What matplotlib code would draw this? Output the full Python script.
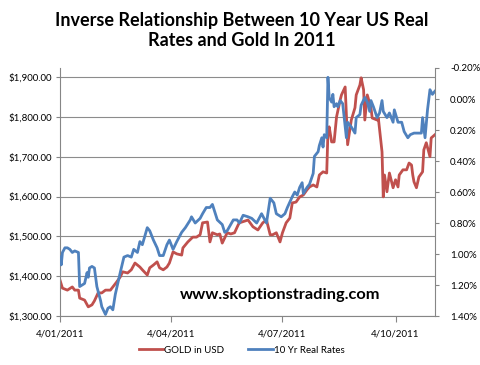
import numpy as np
import matplotlib
matplotlib.use('Agg')
import matplotlib.pyplot as plt
import matplotlib.dates as mdates

plt.rcParams['font.family'] = ['Lato', 'DejaVu Sans']
plt.rcParams['axes.unicode_minus'] = False

# days counted from 4 Jan 2011
start = np.datetime64('2011-01-04')

gold_days = [0, 2, 6, 10, 12, 15, 16, 20, 23, 26, 28, 31, 34, 37, 41, 43, 46, 49, 51, 55,
             58, 61, 65, 67, 71, 73, 76, 79, 81, 84, 87, 89, 92, 95, 99, 100, 104, 108, 111, 114,
             116, 120, 122, 124, 128, 130, 132, 136, 139, 142, 145, 146, 153, 157, 161, 165, 168, 171, 173, 176,
             179, 181, 184, 187, 189, 192, 195, 198, 201, 203, 206, 209, 211, 214, 217, 218, 219, 221, 223, 225,
             228, 229, 232, 233, 234, 237, 240, 241, 244, 245, 247, 248, 250, 253, 254, 258, 259, 262, 263, 264,
             266, 268, 271, 273, 275, 276, 279, 282, 284, 286, 287, 288, 290, 292, 295, 296, 298, 301, 302, 305]
gold_usd = [1390, 1370, 1365, 1373, 1365, 1365, 1345, 1340, 1323, 1328, 1338, 1358, 1358, 1365, 1365, 1373, 1385, 1398, 1411, 1408,
            1416, 1433, 1423, 1416, 1403, 1421, 1428, 1436, 1421, 1416, 1423, 1433, 1461, 1456, 1453, 1471, 1486, 1498, 1498, 1504,
            1534, 1536, 1486, 1509, 1504, 1506, 1483, 1509, 1506, 1509, 1529, 1534, 1541, 1524, 1516, 1534, 1541, 1504, 1504, 1509,
            1486, 1509, 1534, 1546, 1584, 1586, 1599, 1604, 1617, 1624, 1629, 1624, 1654, 1662, 1659, 1762, 1775, 1737, 1737, 1800,
            1843, 1855, 1875, 1805, 1730, 1792, 1823, 1855, 1880, 1898, 1868, 1792, 1855, 1823, 1797, 1792, 1797, 1712, 1599, 1654,
            1612, 1659, 1622, 1642, 1624, 1654, 1667, 1667, 1684, 1679, 1654, 1637, 1622, 1649, 1662, 1717, 1735, 1700, 1747, 1755]

rate_days = [0, 1, 2, 4, 6, 8, 10, 12, 15, 16, 20, 22, 23, 24, 26, 28, 30, 33, 34, 37,
             39, 41, 43, 45, 49, 52, 55, 58, 60, 63, 65, 67, 71, 73, 76, 79, 81, 84, 87, 89,
             92, 95, 99, 102, 106, 107, 110, 114, 116, 119, 122, 124, 128, 132, 134, 136, 141, 144, 146, 149,
             153, 156, 160, 164, 168, 171, 174, 176, 180, 183, 185, 189, 191, 193, 195, 197, 198, 201, 203, 206,
             207, 210, 211, 213, 214, 215, 217, 218, 219, 221, 222, 223, 225, 226, 228, 230, 233, 234, 237, 240,
             241, 244, 245, 248, 250, 252, 253, 255, 258, 260, 262, 263, 266, 268, 271, 272, 275, 278, 280, 283,
             285, 288, 292, 294, 295, 297, 299, 301, 303, 305]
real_rate = [1.02, 1.07, 0.99, 0.96, 0.96, 0.97, 0.99, 0.98, 0.99, 1.21, 1.19, 1.12, 1.15, 1.09, 1.08, 1.09, 1.21, 1.30, 1.34, 1.39,
             1.35, 1.34, 1.36, 1.26, 1.12, 1.02, 1.01, 1.02, 0.97, 0.99, 0.92, 0.94, 0.83, 0.85, 0.91, 0.96, 1.01, 1.01, 0.94, 0.91,
             0.97, 0.92, 0.86, 0.83, 0.78, 0.76, 0.80, 0.77, 0.74, 0.70, 0.70, 0.68, 0.78, 0.81, 0.86, 0.85, 0.78, 0.78, 0.80, 0.75,
             0.76, 0.77, 0.80, 0.74, 0.80, 0.64, 0.67, 0.74, 0.76, 0.74, 0.70, 0.63, 0.60, 0.62, 0.57, 0.54, 0.61, 0.57, 0.55, 0.48,
             0.37, 0.34, 0.30, 0.25, 0.31, 0.23, 0.25, -0.14, -0.01, 0.02, -0.03, 0.05, 0.03, 0.05, 0.01, 0.03, 0.25, 0.15, 0.18, 0.22,
             0.12, 0.10, 0.04, -0.01, 0.02, 0.08, 0.01, 0.05, 0.12, 0.09, 0.01, 0.08, 0.12, 0.09, 0.15, 0.07, 0.15, 0.15, 0.21, 0.25,
             0.23, 0.22, 0.22, 0.22, 0.12, 0.25, 0.07, -0.06, -0.03, -0.05]

tick_dates = ['2011-01-04', '2011-04-04', '2011-07-04', '2011-10-04']

red = '#C0504D'
blue = '#4F81BD'
gray = '#868686'

gold_x = start + np.array(gold_days)
rate_x = start + np.array(rate_days)

fig = plt.figure(figsize=(4.8, 3.65), dpi=100)
ax = fig.add_axes([0.125, 0.1342, 0.781, 0.6795])
ax2 = ax.twinx()

l1, = ax.plot(gold_x, gold_usd, color=red, lw=2.0, label='GOLD in USD')
l2, = ax2.plot(rate_x, real_rate, color=blue, lw=2.0, label='10 Yr Real Rates')

ax.set_xlim(start, start + np.timedelta64(305, 'D'))
ax.set_ylim(1300, 1922.6)
ax.set_yticks(np.arange(1300, 1901, 100))
ax.yaxis.set_major_formatter(plt.FuncFormatter(lambda v, p: f'${v:,.2f}'))
ax.grid(axis='y', color='#8c8c8c', lw=0.8)
ax.set_axisbelow(True)

ax2.set_ylim(1.4, -0.2)
ax2.set_yticks(np.arange(-0.2, 1.41, 0.2))
ax2.yaxis.set_major_formatter(plt.FuncFormatter(lambda v, p: f'{v:.2f}%'))

ticks = [np.datetime64(d) for d in tick_dates]
ax.set_xticks(ticks)
ax.set_xticklabels([f'{int(str(d)[8:])}/{str(d)[5:7]}/{str(d)[:4]}' for d in ticks])

for a in (ax, ax2):
    for s in a.spines.values():
        s.set_color(gray)
        s.set_linewidth(0.8)
    a.spines['top'].set_visible(False)
ax.spines['right'].set_visible(False)
ax2.spines['left'].set_visible(False)
ax2.spines['bottom'].set_visible(False)

ax.tick_params(axis='y', labelsize=7, length=3, color=gray, pad=3)
ax.tick_params(axis='x', labelsize=7, length=4, color=gray, pad=6)
ax2.tick_params(axis='y', labelsize=7, length=3, color=gray, pad=8)

fig.text(0.503, 0.916, 'Inverse Relationship Between 10 Year US Real\nRates and Gold In 2011',
         ha='center', va='center', fontsize=13, fontweight='bold', linespacing=1.25)
fig.text(0.583, 0.1925, 'www.skoptionstrading.com', ha='center', va='center',
         fontsize=11.8, fontweight='bold')

fig.legend(handles=[l1, l2], loc='center', bbox_to_anchor=(0.503, 0.041), ncol=2, frameon=False,
           fontsize=7, handlelength=2.5, handletextpad=0.1, columnspacing=2.5)

fig.savefig('out.png', dpi=100)
